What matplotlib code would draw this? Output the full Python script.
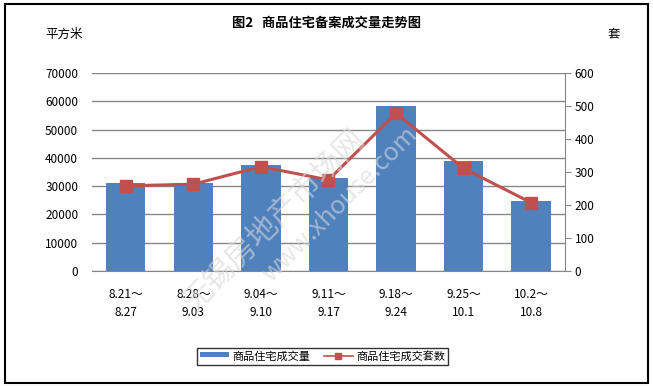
import numpy as np
import matplotlib.pyplot as plt
from matplotlib.patches import Rectangle

plt.rcParams['font.family'] = ['Noto Sans CJK SC', 'DejaVu Sans']

# data
weeks = ['8.21～\n8.27', '8.28～\n9.03', '9.04～\n9.10', '9.11～\n9.17',
         '9.18～\n9.24', '9.25～\n10.1', '10.2～\n10.8']
area = [31100, 31200, 37500, 33000, 58400, 38900, 24700]   # 平方米
units = [258, 263, 316, 276, 478, 311, 207]                  # 套

fig = plt.figure(figsize=(6.53, 3.86), dpi=100)
ax = fig.add_axes([0.141, 0.298, 0.724, 0.513])
ax2 = ax.twinx()

x = np.arange(len(weeks))
bars = ax.bar(x, area, width=0.58, color='#4F81BD', zorder=2, label='商品住宅成交量')
line, = ax2.plot(x, units, color='#C0504D', lw=2.2, marker='s', ms=8,
                 label='商品住宅成交套数', zorder=3)

ax.set_xlim(-0.5, len(weeks) - 0.5)
ax.set_ylim(0, 70000)
ax.set_yticks(range(0, 70001, 10000))
ax2.set_ylim(0, 600)
ax2.set_yticks(range(0, 601, 100))
ax.yaxis.grid(True, color='#868686', lw=1, zorder=0)
ax.set_axisbelow(True)

for a in (ax, ax2):
    for s in ('top', 'left'):
        a.spines[s].set_visible(False)
ax.spines['right'].set_visible(False)
ax2.spines['bottom'].set_visible(False)
ax.spines['bottom'].set_color('#868686')
ax2.spines['right'].set_color('#868686')

ax.set_xticks(x)
ax.set_xticklabels(weeks, fontsize=8.5, linespacing=1.5)
ax.tick_params(axis='x', length=0, pad=12)
ax.tick_params(axis='y', length=0, labelsize=8.5, pad=10)
ax2.tick_params(axis='y', length=4, color='#868686', labelsize=8.5, pad=3)

fig.text(0.5, 0.94, '图2   商品住宅备案成交量走势图', ha='center', va='center',
         fontsize=9.5, fontweight='bold')
fig.text(0.098, 0.912, '平方米', ha='center', va='center', fontsize=9)
fig.text(0.94, 0.912, '套', ha='center', va='center', fontsize=9)

# watermark
fig.text(0.42, 0.43, '无锡房地产市场网', rotation=45, fontsize=22, color='#d8d8d8',
         alpha=0.6, ha='center', va='center', zorder=5)
fig.text(0.52, 0.47, 'www.xhouse.com', rotation=45, fontsize=18, color='#d8d8d8',
         alpha=0.6, ha='center', va='center', zorder=5)

leg = fig.legend(handles=[bars, line], loc='center', bbox_to_anchor=(0.494, 0.076),
                 ncol=2, fontsize=8, frameon=True, fancybox=False, edgecolor='black',
                 handlelength=2.6, handletextpad=0.3, columnspacing=1.2,
                 borderpad=0.25)
leg.get_frame().set_linewidth(1)
for h in leg.legend_handles:
    if isinstance(h, Rectangle):
        h.set_height(4)
        h.set_y(2)
leg.legend_handles[1].set_markersize(5)
leg.legend_handles[1].set_linewidth(1.2)

fig.patches.append(Rectangle((0.007, 0.008), 0.986, 0.982, transform=fig.transFigure,
                             fill=False, edgecolor='black', lw=1.5))

fig.savefig('out.png', dpi=100)
